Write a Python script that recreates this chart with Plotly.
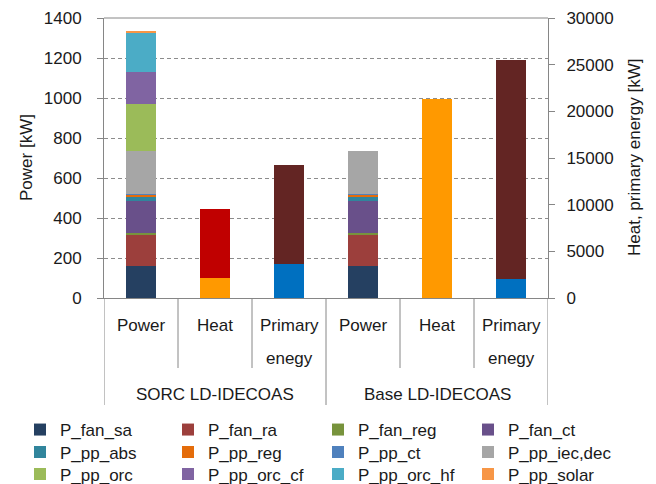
import plotly.graph_objects as go

# ---------------- data ----------------
groups = ["SORC LD-IDECOAS", "Base LD-IDECOAS"]
categories = ["Power", "Heat", "Primary enegy"]

# power components [kW] for (SORC Power, Base Power)
power_names = ["P_fan_sa", "P_fan_ra", "P_fan_reg", "P_fan_ct",
               "P_pp_abs", "P_pp_reg", "P_pp_ct", "P_pp_iec,dec",
               "P_pp_orc", "P_pp_orc_cf", "P_pp_orc_hf", "P_pp_solar"]
P_fan_sa = [158, 158]
P_fan_ra = [160, 160]
P_fan_reg = [6, 6]
P_fan_ct = [161, 161]
P_pp_abs = [18, 18]
P_pp_reg = [12, 12]
P_pp_ct = [7, 7]
P_pp_iec_dec = [213, 215]
P_pp_orc = [233, 0]
P_pp_orc_cf = [160, 0]
P_pp_orc_hf = [200, 0]
P_pp_solar = [6, 0]
power_values = [P_fan_sa, P_fan_ra, P_fan_reg, P_fan_ct, P_pp_abs, P_pp_reg,
                P_pp_ct, P_pp_iec_dec, P_pp_orc, P_pp_orc_cf, P_pp_orc_hf, P_pp_solar]

# heat [kW] for (SORC Heat, Base Heat)
Q_heat_low = [2150, 21300]
Q_heat_high = [7400, 0]
# primary energy [kW] for (SORC, Base)
PE_elec = [3600, 2000]
PE_heat = [10600, 23450]

y_title_left = "Power [kW]"
y_title_right = "Heat, primary energy [kW]"

# ---------------- styles ----------------
power_colors = ["#254061", "#9C3F3C", "#77933C", "#69508A",
                "#31859C", "#E46C0A", "#4F81BD", "#A6A6A6",
                "#9BBB59", "#8064A2", "#4BACC6", "#F79646"]
FONT = "Liberation Sans, Arial, sans-serif"
TXT = "#1a1a1a"
AX = "#868686"
W, H = 656, 484
ML, MR, MT, MB = 104, 108, 18, 186
PW = W - ML - MR
N_LEG_COLS = 4
legend_text_x = [60, 208, 358, 508]     # px where legend texts start (per column)
legend_row_center = [429, 451.5, 473.5]  # px centre of each legend row

n_cat = len(categories)
pos_power = [g * n_cat + 0 for g in range(len(groups))]
pos_heat = [g * n_cat + 1 for g in range(len(groups))]
pos_pe = [g * n_cat + 2 for g in range(len(groups))]

fig = go.Figure()
legends = {}
for i, (name, vals, col) in enumerate(zip(power_names, power_values, power_colors)):
    lid = "legend" if i == 0 else f"legend{i + 1}"
    r, c = divmod(i, N_LEG_COLS)
    legends[lid] = dict(orientation="v", xref="container", yref="container",
                        x=(legend_text_x[c] - 40) / W,
                        y=1 - (legend_row_center[r] - 17) / H,
                        xanchor="left", yanchor="top",
                        font=dict(size=17, color=TXT, family=FONT),
                        bgcolor="rgba(0,0,0,0)", borderwidth=0)
    fig.add_trace(go.Bar(x=pos_power, y=vals, name=name, marker_color=col,
                         width=0.4, yaxis="y", marker_line_width=0, legend=lid))
for vals, col, nm in [(Q_heat_low, "#FF9900", "Q_low"), (Q_heat_high, "#C00000", "Q_high")]:
    fig.add_trace(go.Bar(x=pos_heat, y=vals, name=nm, marker_color=col, width=0.4,
                         yaxis="y2", showlegend=False, marker_line_width=0))
for vals, col, nm in [(PE_elec, "#0070C0", "PE_elec"), (PE_heat, "#632523", "PE_heat")]:
    fig.add_trace(go.Bar(x=pos_pe, y=vals, name=nm, marker_color=col, width=0.4,
                         yaxis="y2", showlegend=False, marker_line_width=0))

# category / group labels and dividers
annotations = []
shapes = []
for g, grp in enumerate(groups):
    for c, cat in enumerate(categories):
        xi = g * n_cat + c
        for li, line in enumerate(cat.split(" ")):
            annotations.append(dict(x=xi, xref="x", y=0, yref="paper", text=line,
                                    showarrow=False, yanchor="middle",
                                    yshift=-27 - 33 * li,
                                    font=dict(size=17, color=TXT, family=FONT)))
    annotations.append(dict(x=g * n_cat + (n_cat - 1) / 2, xref="x", y=0, yref="paper",
                            text=grp, showarrow=False, yanchor="middle", yshift=-96,
                            font=dict(size=17, color=TXT, family=FONT)))
# axis titles
for txt, px in [(y_title_left, 26), (y_title_right, 634)]:
    annotations.append(dict(x=(px - ML) / PW, xref="paper", y=0.5, yref="paper",
                            text=txt, textangle=-90, showarrow=False,
                            xanchor="center", yanchor="middle",
                            font=dict(size=17, color=TXT, family=FONT)))

n_total = n_cat * len(groups)
for b in range(n_total + 1):
    outer = (b % n_cat == 0)
    shapes.append(dict(type="line", xref="x", x0=b - 0.5, x1=b - 0.5,
                       yref="paper", ysizemode="pixel", yanchor=0,
                       y0=0, y1=-(107 if outer else 70),
                       line=dict(color=AX, width=1)))
# top border
shapes.append(dict(type="line", xref="paper", x0=0, x1=1, yref="paper", y0=1, y1=1,
                   line=dict(color=AX, width=1)))

fig.update_layout(
    width=W, height=H,
    margin=dict(l=ML, r=MR, t=MT, b=MB, autoexpand=False),
    paper_bgcolor="white", plot_bgcolor="white",
    barmode="stack",
    font=dict(family=FONT, size=17, color=TXT),
    xaxis=dict(range=[-0.5, n_total - 0.5], showticklabels=False, showgrid=False,
               zeroline=False, showline=True, linecolor=AX, linewidth=1, ticks=""),
    yaxis=dict(range=[0, 1400], dtick=200, showgrid=True, gridcolor="#8c8c8c",
               griddash="4px,3px", gridwidth=1, zeroline=False, showline=True,
               linecolor=AX, linewidth=1, ticks="outside", ticklen=6, tickcolor=AX,
               ticklabelstandoff=12),
    yaxis2=dict(range=[0, 30000], dtick=5000, tickformat="d", overlaying="y", side="right",
                showgrid=False, zeroline=False, showline=True, linecolor=AX,
                linewidth=1, ticks="outside", ticklen=6, tickcolor=AX,
                ticklabelstandoff=8),
    annotations=annotations,
    shapes=shapes,
    **legends,
)

fig.write_html("out.html", config={"displayModeBar": False},
               post_script="document.body.style.margin='0px';")
